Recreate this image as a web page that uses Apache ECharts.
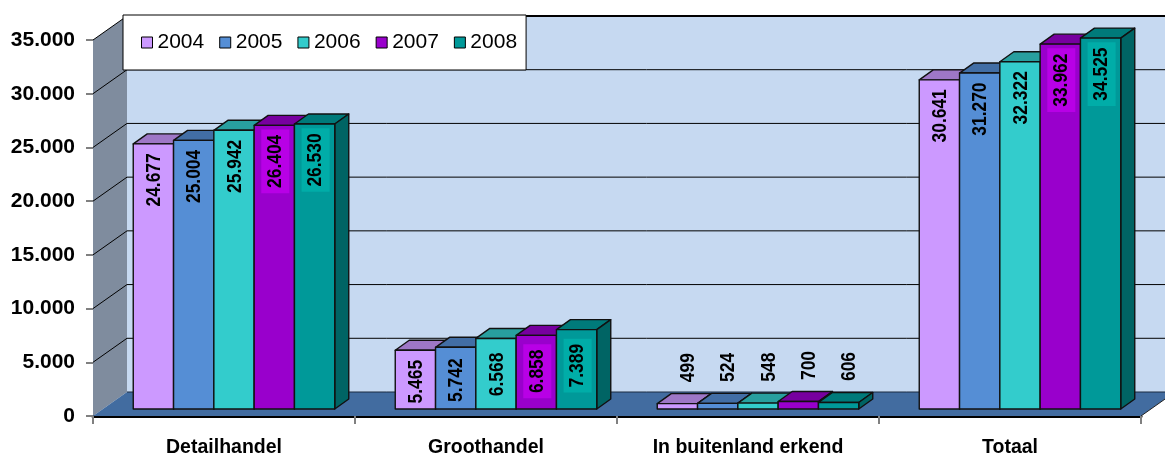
<!DOCTYPE html>
<html>
<head>
<meta charset="utf-8">
<style>
html, body { margin: 0; padding: 0; background: #fff; }
#chart { width: 1165px; height: 455px; }
</style>
<script src="https://cdn.jsdelivr.net/npm/echarts@6/dist/echarts.min.js"></script>
</head>
<body>
<div id="chart"></div>
<script>
// data
const categories = ['Detailhandel', 'Groothandel', 'In buitenland erkend', 'Totaal'];
const years = ['2004', '2005', '2006', '2007', '2008'];
const values2004 = [24677, 5465, 499, 30641];
const values2005 = [25004, 5742, 524, 31270];
const values2006 = [25942, 6568, 548, 32322];
const values2007 = [26404, 6858, 700, 33962];
const values2008 = [26530, 7389, 606, 34525];
const yTicks = [0, 5000, 10000, 15000, 20000, 25000, 30000, 35000];

const allValues = [values2004, values2005, values2006, values2007, values2008];
const colors = ['#cc99ff', '#558ed5', '#33cccc', '#9900cc', '#009999'];
const topColors = ['#9e77c6', '#426ea5', '#289f9f', '#77009f', '#007a7a'];
const sideColors = ['#7a5c99', '#335580', '#1f7a7a', '#5c007a', '#006464'];
const labelBoxes = [null, null, null, '#b800e6', '#00ada8'];

// fake 3D depth, in pixels
const wallDx = 34, wallDy = -24;
const barBaseDx = 10, barBaseDy = -7;
const barDepthDx = 14, barDepthDy = -10;
const barsWidthShare = 5 * 40.3 / 262;
const labelDrop = 36;

const fmt = v => String(v).replace(/\B(?=(\d{3})+$)/g, '.');

function poly(points, fill, stroke, lineWidth) {
	return {
		type: 'polygon',
		shape: { points: points },
		style: { fill: fill, stroke: stroke || 'none', lineWidth: lineWidth || 0, lineJoin: 'round' }
	};
}

function line(x1, y1, x2, y2, color, w) {
	return { type: 'line', shape: { x1: x1, y1: y1, x2: x2, y2: y2 }, style: { stroke: color, lineWidth: w } };
}

// walls, floor and gridlines, taken from the axes so they follow the scale
function renderWalls(params, api) {
	const band = api.size([1, 0])[0];
	const x0 = api.coord([0, 0])[0] - band / 2;
	const x1 = x0 + band * categories.length;
	const y0 = api.coord([0, 0])[1];
	const yTop = api.coord([0, yTicks[yTicks.length - 1]])[1];
	const children = [
		poly([[x0 + wallDx, yTop + wallDy], [x1 + wallDx, yTop + wallDy], [x1 + wallDx, y0 + wallDy], [x0 + wallDx, y0 + wallDy]], '#c6d9f1'),
		poly([[x0, y0], [x0 + wallDx, y0 + wallDy], [x0 + wallDx, yTop + wallDy], [x0, yTop]], '#7f8c9e'),
		poly([[x0, y0], [x1, y0], [x1 + wallDx, y0 + wallDy], [x0 + wallDx, y0 + wallDy]], '#426ca0')
	];
	yTicks.forEach(t => {
		const y = api.coord([0, t])[1];
		if (t > 0) {
			children.push(line(x0, y, x0 + wallDx, y + wallDy, '#000', 1));
			children.push(line(x0 + wallDx, y + wallDy, x1 + wallDx, y + wallDy, '#000', t === 35000 ? 2 : 1));
		}
	});
	children.push(line(x0 + wallDx, y0 + wallDy, x1 + wallDx, y0 + wallDy, '#1a2a40', 1));
	children.push(line(x1, y0, x1 + wallDx, y0 + wallDy, '#222', 1));
	return { type: 'group', children: children };
}

function barRenderer(s) {
	return function (params, api) {
		const cat = api.value(0);
		const val = api.value(1);
		const band = api.size([1, 0])[0];
		const w = band * barsWidthShare / years.length;
		const c = api.coord([cat, val]);
		const base = api.coord([cat, 0]);
		const left = c[0] - w * years.length / 2 + w * s + barBaseDx;
		const right = left + w;
		const top = c[1] + barBaseDy;
		const bottom = base[1] + barBaseDy;
		const dx = barDepthDx, dy = barDepthDy;
		const border = '#111';
		const children = [
			poly([[left, top], [left + dx, top + dy], [right + dx, top + dy], [right, top]], topColors[s], border, 1.4),
			poly([[right, top], [right + dx, top + dy], [right + dx, bottom + dy], [right, bottom]], sideColors[s], border, 1.4),
			poly([[left, top], [right, top], [right, bottom], [left, bottom]], colors[s], border, 1.4)
		];
		const h = bottom - top;
		const inside = h > 30;
		const label = {
			type: 'text',
			x: (left + right) / 2 + (inside ? 1 : 11),
			y: inside ? top + Math.min(labelDrop, h / 2 + 2) : top - labelDrop,
			rotation: Math.PI / 2,
			scaleX: 0.87,
			style: {
				text: fmt(val),
				font: 'bold 20px "Liberation Sans", Arial, sans-serif',
				fill: '#000',
				align: 'center',
				verticalAlign: 'middle',
				backgroundColor: inside && labelBoxes[s] ? labelBoxes[s] : 'transparent',
				padding: inside && labelBoxes[s] ? [4, 6, 4, 6] : 0
			}
		};
		children.push(label);
		return { type: 'group', children: children };
	};
}

const series = [{
	type: 'custom',
	name: 'walls',
	silent: true,
	clip: false,
	data: [[0, 0]],
	renderItem: renderWalls
}];
years.forEach((year, s) => {
	series.push({
		type: 'custom',
		name: year,
		clip: false,
		itemStyle: { color: colors[s] },
		encode: { x: 0, y: 1 },
		data: allValues[s].map((v, i) => [i, v]),
		renderItem: barRenderer(s)
	});
});

const chart = echarts.init(document.getElementById('chart'), null, { renderer: 'canvas' });
chart.setOption({
	animation: false,
	backgroundColor: '#ffffff',
	textStyle: { fontFamily: '"Liberation Sans", Arial, sans-serif' },
	grid: { left: 93, top: 40, width: 1048, height: 376, outerBoundsMode: 'none' },
	legend: {
		data: years,
		left: 123,
		top: 15,
		icon: 'rect',
		itemWidth: 11,
		itemHeight: 11,
		itemGap: 15,
		padding: [17, 9, 17, 18],
		backgroundColor: '#fff',
		borderColor: '#000',
		borderWidth: 1,
		itemStyle: { borderColor: '#000', borderWidth: 1 },
		textStyle: { fontSize: 21, color: '#000', fontFamily: '"Liberation Sans", Arial, sans-serif' }
	},
	xAxis: {
		type: 'category',
		data: categories,
		axisLine: { show: true, lineStyle: { color: '#000', width: 3 } },
		axisTick: { show: true, length: 8, lineStyle: { color: '#808080', width: 2 } },
		axisLabel: { color: '#000', fontSize: 19.5, fontWeight: 'bold', margin: 22 }
	},
	yAxis: {
		type: 'value',
		min: 0,
		max: 35000,
		interval: 5000,
		axisLine: { show: true, lineStyle: { color: '#808080', width: 1 } },
		axisTick: { show: true, length: 7, lineStyle: { color: '#808080', width: 2 } },
		splitLine: { show: false },
		axisLabel: { color: '#000', fontSize: 21, fontWeight: 'bold', margin: 18, padding: [2, 0, 0, 0], formatter: v => fmt(v) }
	},
	series: series
});
</script>
</body>
</html>
